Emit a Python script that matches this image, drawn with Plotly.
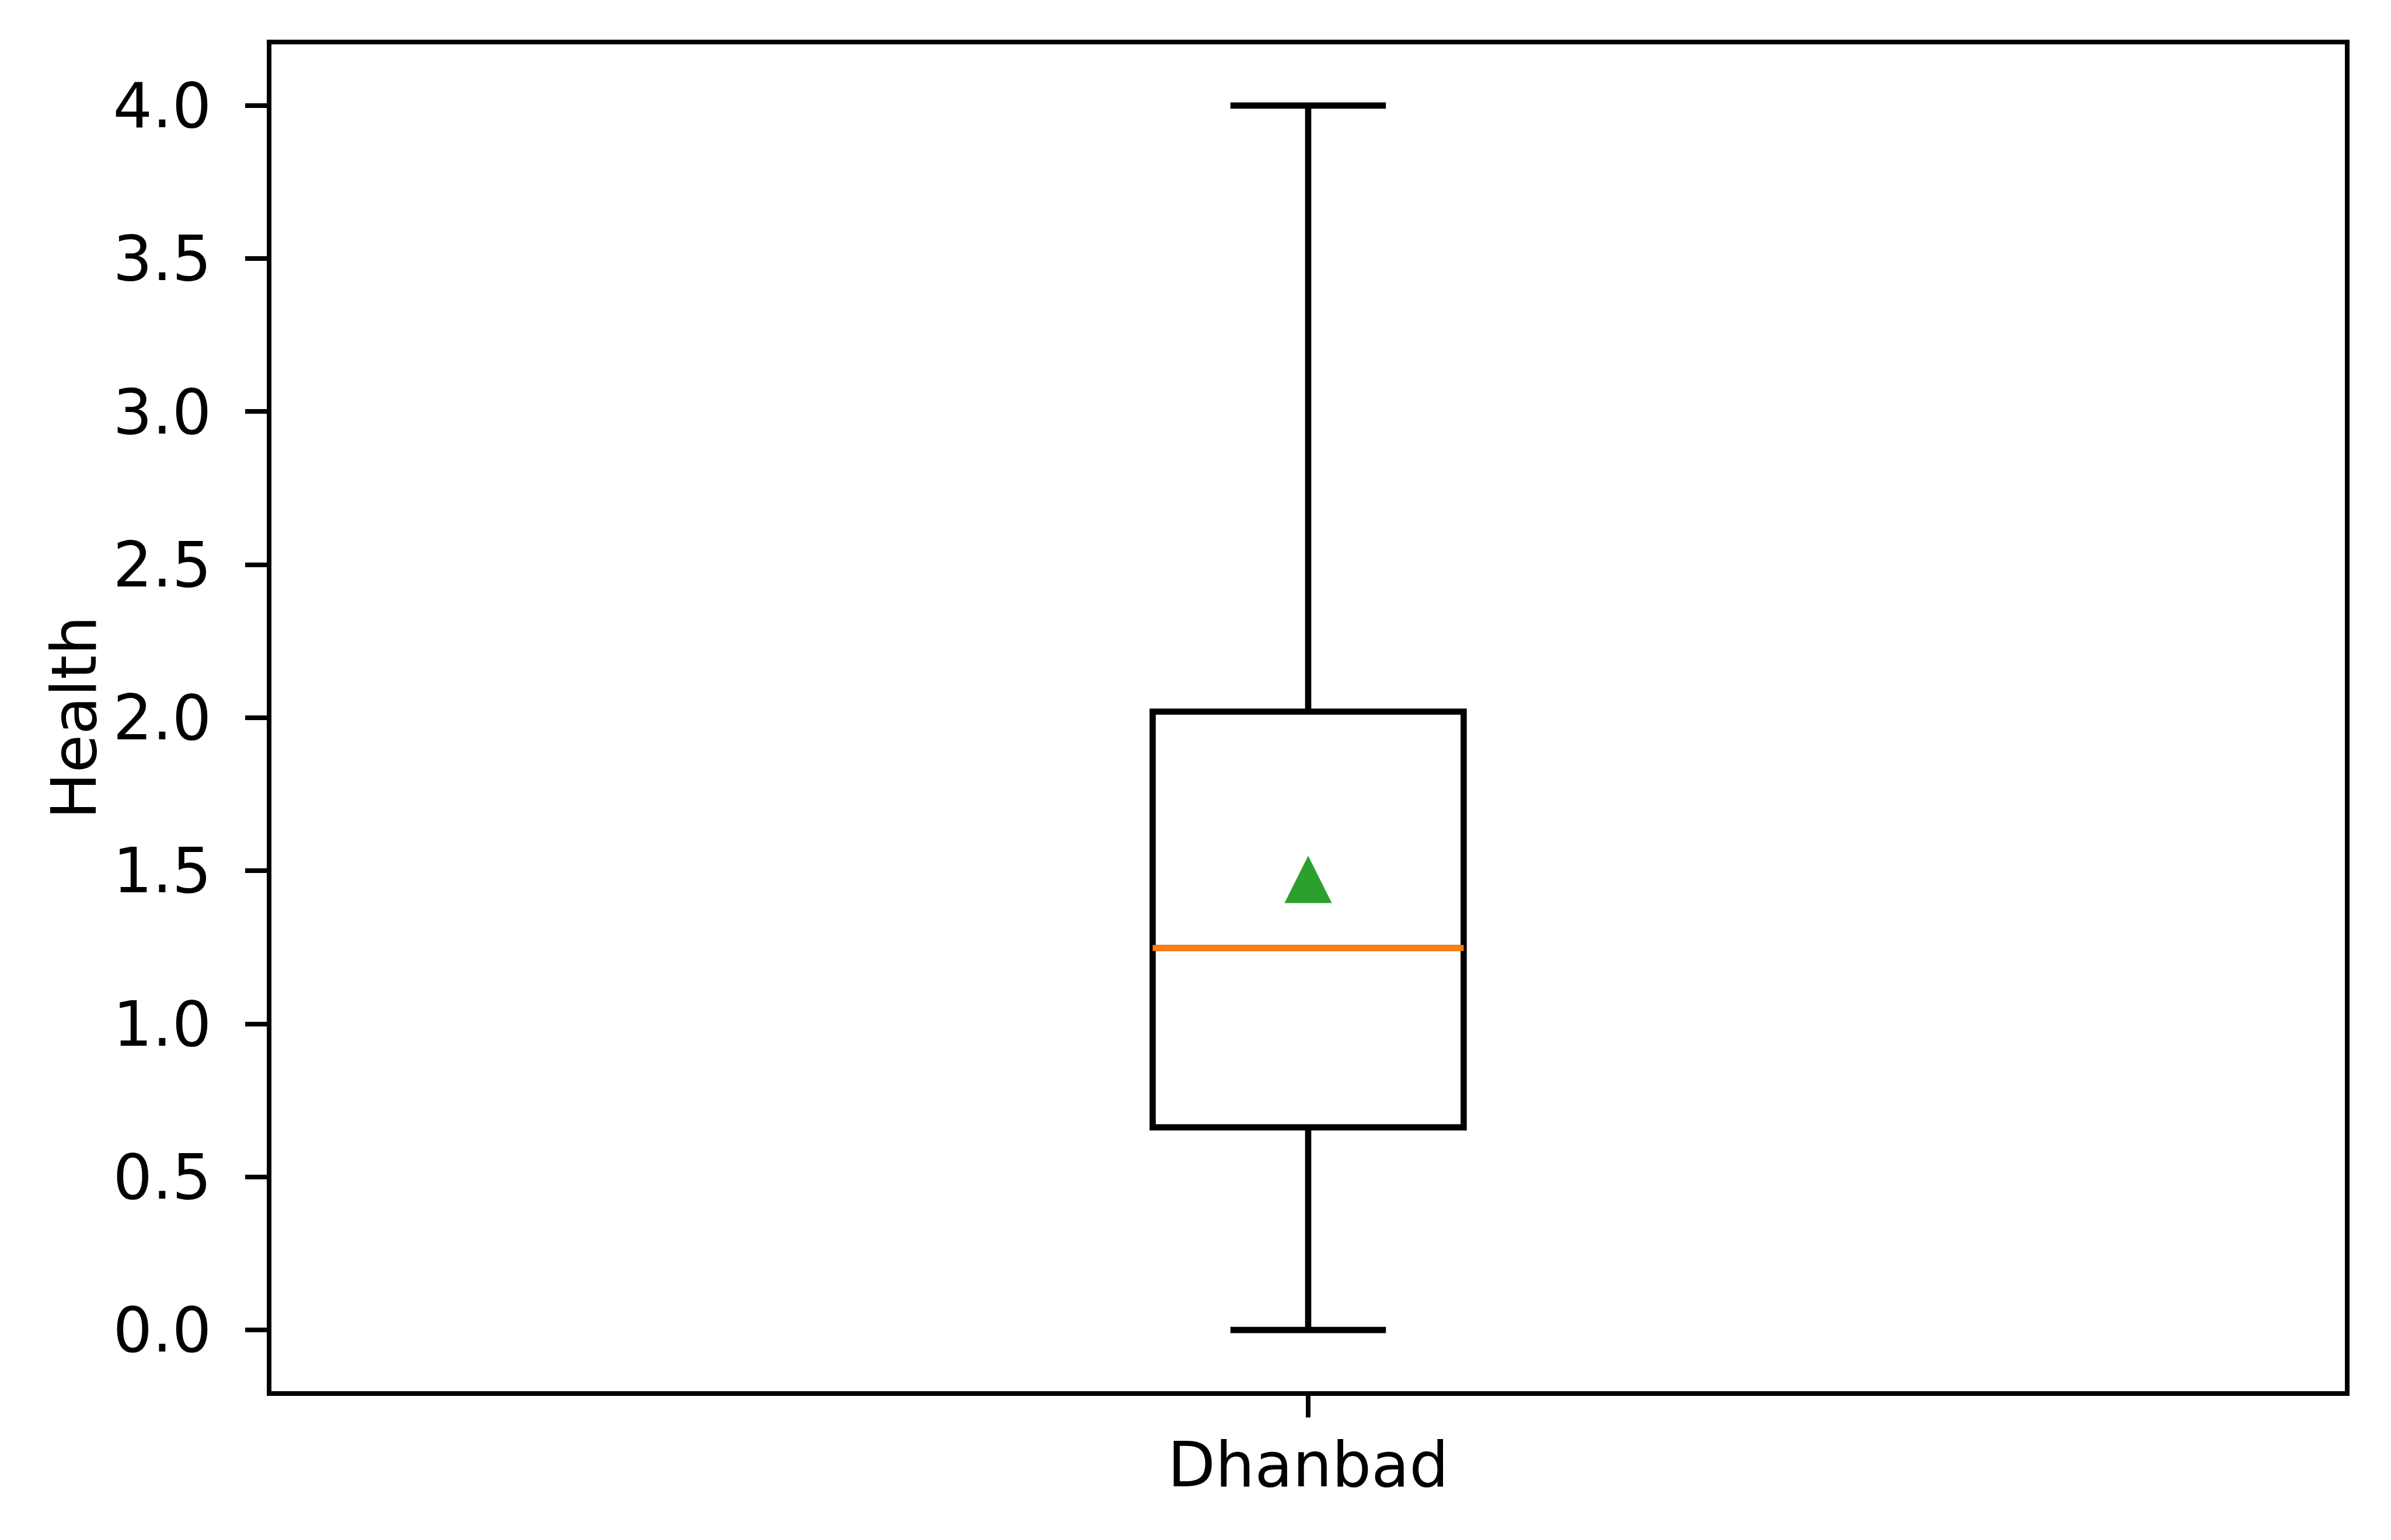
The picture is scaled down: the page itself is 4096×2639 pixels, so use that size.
import plotly.graph_objects as go

# Data
categories = ["Dhanbad"]
positions = [1]
q1_vals = [0.662]
median_vals = [1.248]
q3_vals = [2.02]
lower_whisker = [0.0]
upper_whisker = [4.0]
mean_vals = [1.472]
y_tick_vals = [0.0, 0.5, 1.0, 1.5, 2.0, 2.5, 3.0, 3.5, 4.0]
y_title = "Health"

S = 0.764
FONT = "DejaVu Sans"
fs = 139 * S
line_w = 13.9 * S
spine_w = 11.1 * S
tick_len = 48.6 * S
box_width = 0.15
tri_size = 81  # matplotlib-like '^' (equal width and height)

L, R, T, B = 465, 79, 76, 255
W, H = 4096, 2639

fig = go.Figure()

fig.add_trace(go.Box(
    x=positions, q1=q1_vals, median=median_vals, q3=q3_vals,
    lowerfence=lower_whisker, upperfence=upper_whisker,
    width=box_width, whiskerwidth=0.5,
    line=dict(color="black", width=line_w),
    fillcolor="rgba(0,0,0,0)",
    boxpoints=False, showlegend=False, hoverinfo="skip",
))

# orange median line (degenerate box drawn on top)
fig.add_trace(go.Box(
    x=positions, q1=median_vals, median=median_vals, q3=median_vals,
    lowerfence=median_vals, upperfence=median_vals,
    width=box_width, whiskerwidth=0.0,
    line=dict(color="#ff7f0e", width=line_w),
    fillcolor="rgba(0,0,0,0)",
    boxpoints=False, showlegend=False, hoverinfo="skip",
))

# mean marker: an upward triangle centred on the mean
fig.add_trace(go.Scatter(
    x=positions, y=mean_vals, mode="markers",
    marker=dict(symbol="arrow-down", angle=180, standoff=tri_size / 2,
                size=tri_size, color="#2ca02c", line=dict(width=0)),
    showlegend=False, hoverinfo="skip",
))

fig.update_layout(
    width=W, height=H,
    margin=dict(l=L, r=R, t=T, b=B, pad=0),
    paper_bgcolor="white", plot_bgcolor="white",
    boxmode="overlay",
    font=dict(family=FONT, size=fs, color="black"),
)

fig.update_xaxes(
    range=[0.5, 1.5], tickmode="array", tickvals=positions, ticktext=categories,
    showline=True, linecolor="black", linewidth=spine_w, mirror=True,
    ticks="outside", ticklen=tick_len, tickwidth=spine_w, tickcolor="black",
    showgrid=False, zeroline=False,
    tickfont=dict(family=FONT, size=fs, color="black"),
    ticklabelstandoff=-10,
)
fig.update_yaxes(
    range=[-0.2, 4.2], tickmode="array", tickvals=y_tick_vals,
    ticktext=[f"{v:.1f}" for v in y_tick_vals],
    showline=True, linecolor="black", linewidth=spine_w, mirror=True,
    ticks="outside", ticklen=tick_len, tickwidth=spine_w, tickcolor="black",
    showgrid=False, zeroline=False,
    tickfont=dict(family=FONT, size=fs, color="black"),
    ticklabelstandoff=36,
)

plot_w = W - L - R
fig.add_annotation(
    text=y_title, textangle=-90, showarrow=False,
    xref="paper", yref="paper",
    x=(127 - L) / plot_w, y=0.5, xanchor="center", yanchor="middle",
    font=dict(family=FONT, size=fs, color="black"),
)

fig.write_html("out.html")
